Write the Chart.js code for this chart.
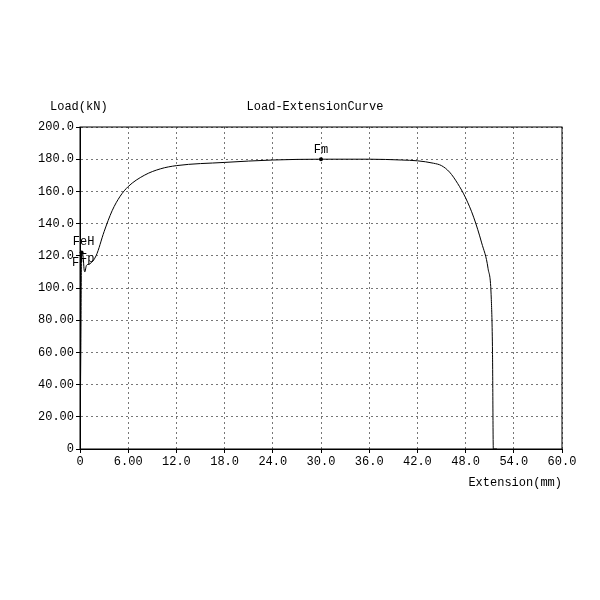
<!DOCTYPE html>
<html>
<head>
<script src="https://cdn.jsdelivr.net/npm/chart.js@4"></script>
<style>body{margin:0;background:#fff}#wrap{width:600px;height:600px}</style>
</head>
<body>
<div id="wrap"><canvas id="c"></canvas></div>
<script>
// curve: extension (mm), load (kN)
const extension = [0, 0.1, 0.2, 0.3, 0.4, 0.5, 0.6, 0.8, 1.2, 2, 3, 4, 5, 6, 8, 10, 12, 18, 24, 30, 36, 40, 42, 44, 45, 46, 47, 48, 49, 50, 50.8, 51.2, 51.35, 51.45, 51.9];
const load = [0, 60, 122, 122, 119, 112, 110, 114, 115, 120, 135, 148, 157, 163, 170, 174, 176, 178, 179.5, 180, 180, 179.5, 179, 177.5, 176, 172, 165, 156, 144, 128, 112, 93, 60, 0, 0];
const xTickLabels = ["0", "6.00", "12.0", "18.0", "24.0", "30.0", "36.0", "42.0", "48.0", "54.0", "60.0"];
const yTickLabels = ["0", "20.00", "40.00", "60.00", "80.00", "100.0", "120.0", "140.0", "160.0", "180.0", "200.0"];
const markers = [
  { label: "Fm", x: 30, y: 180 },
  { label: "FeH", x: 0.2, y: 122 },
];

const font = { family: "Liberation Mono", size: 12 };

const extras = {
  id: "extras",
  afterDraw(chart) {
    const { ctx, chartArea: a, scales } = chart;
    ctx.save();
    ctx.strokeStyle = "#000";
    ctx.lineWidth = 1;
    ctx.strokeRect(a.left, a.top, a.right - a.left, a.bottom - a.top);
    ctx.fillStyle = "#000";
    ctx.font = "12px Liberation Mono";
    ctx.textBaseline = "alphabetic";
    ctx.textAlign = "left";
    ctx.fillText("Load(kN)", 50, 110);
    ctx.textAlign = "center";
    ctx.fillText("Load-ExtensionCurve", 315, 110);
    ctx.textAlign = "right";
    ctx.fillText("Extension(mm)", 562, 486);
    // markers
    markers.forEach(m => {
      const px = scales.x.getPixelForValue(m.x);
      const py = scales.y.getPixelForValue(m.y);
      ctx.beginPath();
      ctx.arc(px, py, 2, 0, Math.PI * 2);
      ctx.fill();
      ctx.textAlign = "center";
      if (m.label === "Fm") ctx.fillText(m.label, px, py - 6);
      else ctx.fillText(m.label, px + 2, py - 8);
    });
    ctx.textAlign = "left";
    ctx.fillText("F", 72, 266);
    ctx.fillText("Fp", 80, 262);
    ctx.restore();
  }
};

new Chart(document.getElementById("c"), {
  type: "line",
  data: {
    datasets: [{
      data: extension.map((x, i) => ({ x, y: load[i] })),
      borderColor: "#000",
      borderWidth: 1,
      pointRadius: 0,
      cubicInterpolationMode: "monotone",
    }],
  },
  options: {
    responsive: true,
    maintainAspectRatio: false,
    animation: false,
    layout: { padding: { top: 127, right: 38, bottom: 131, left: 0 } },
    plugins: { legend: { display: false }, tooltip: { enabled: false } },
    scales: {
      x: {
        type: "linear", min: 0, max: 60,
        afterFit: s => { s.height = 20; },
        ticks: { stepSize: 6, color: "#000", font, maxRotation: 0, padding: 2,
          callback: (v) => xTickLabels[Math.round(v / 6)] },
        grid: { color: "#777", tickColor: "#000", tickLength: 4 },
        border: { color: "#000", dash: [2, 3] },
      },
      y: {
        min: 0, max: 200,
        afterFit: s => { s.width = 80; },
        ticks: { stepSize: 20, color: "#000", font, padding: 2,
          callback: (v) => yTickLabels[Math.round(v / 20)] },
        grid: { color: "#777", tickColor: "#000", tickLength: 4 },
        border: { color: "#000", dash: [2, 3] },
      },
    },
  },
  plugins: [extras],
});
</script>
</body>
</html>
